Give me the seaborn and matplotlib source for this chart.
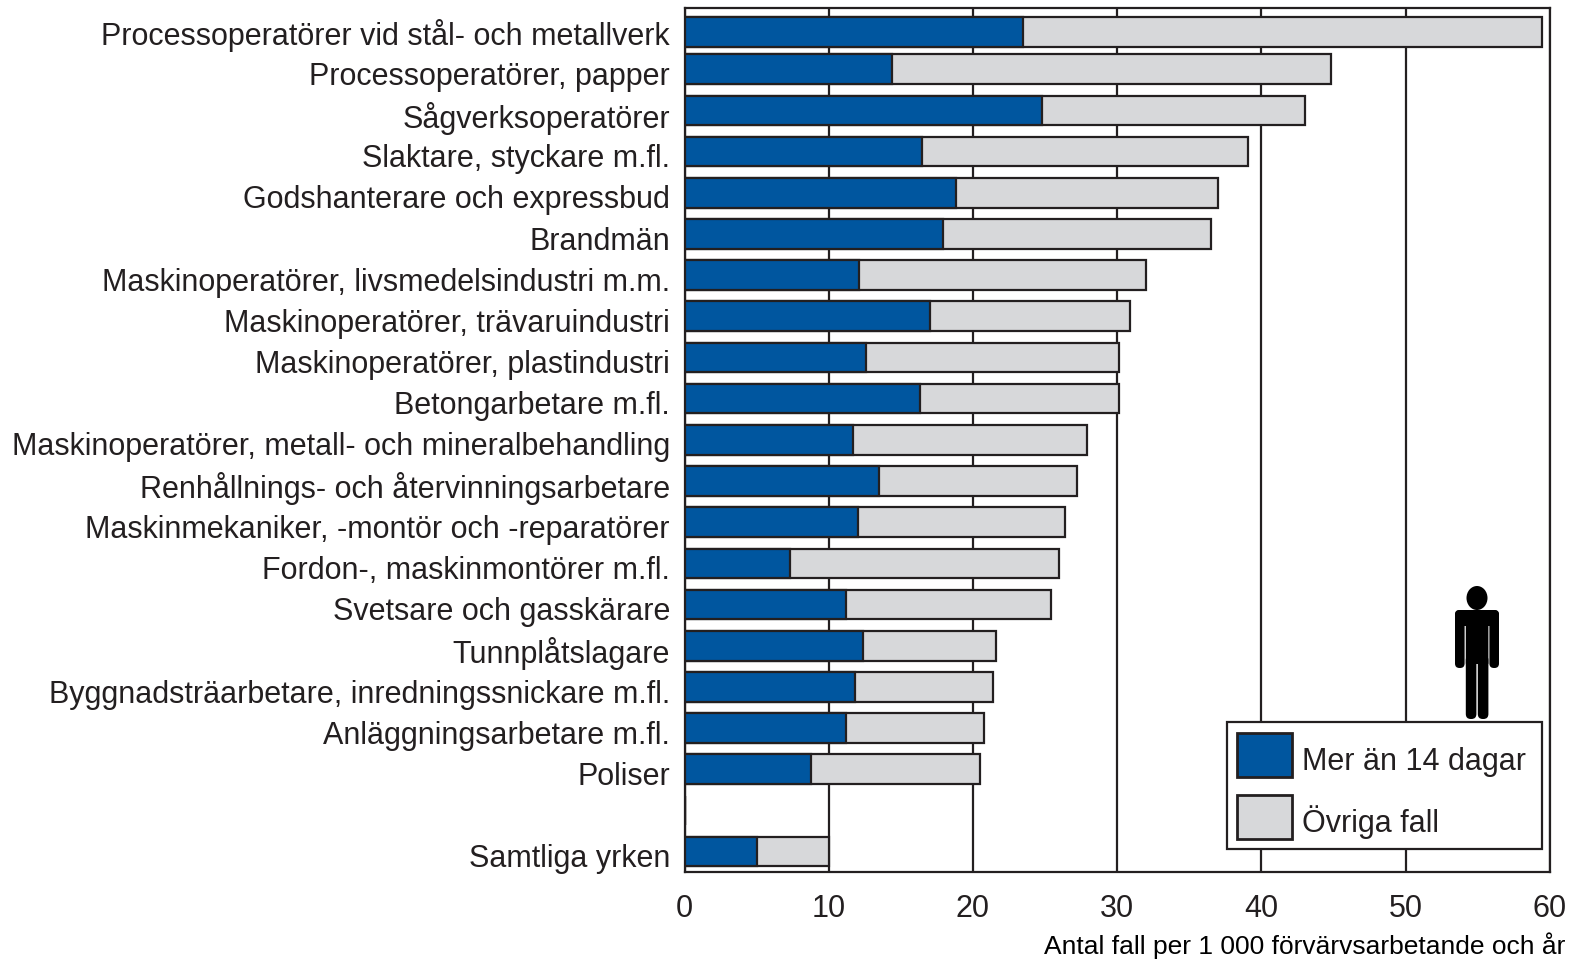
import matplotlib
matplotlib.use('Agg')
import matplotlib.pyplot as plt
from matplotlib.patches import Ellipse, FancyBboxPatch, Patch, Rectangle
from matplotlib.transforms import IdentityTransform, ScaledTranslation
import pandas as pd
import seaborn as sns

occupations = [
    'Processoperatörer vid stål- och metallverk',
    'Processoperatörer, papper',
    'Sågverksoperatörer',
    'Slaktare, styckare m.fl.',
    'Godshanterare och expressbud',
    'Brandmän',
    'Maskinoperatörer, livsmedelsindustri m.m.',
    'Maskinoperatörer, trävaruindustri',
    'Maskinoperatörer, plastindustri',
    'Betongarbetare m.fl.',
    'Maskinoperatörer, metall- och mineralbehandling',
    'Renhållnings- och återvinningsarbetare',
    'Maskinmekaniker, -montör och -reparatörer',
    'Fordon-, maskinmontörer m.fl.',
    'Svetsare och gasskärare',
    'Tunnplåtslagare',
    'Byggnadsträarbetare, inredningssnickare m.fl.',
    'Anläggningsarbetare m.fl.',
    'Poliser',
    ' ',
    'Samtliga yrken',
]
over_14_days = [23.5, 14.4, 24.8, 16.5, 18.8, 17.9, 12.1, 17.0, 12.6, 16.3, 11.7,
                13.5, 12.0, 7.3, 11.2, 12.4, 11.8, 11.2, 8.8, 0, 5.0]
total = [59.5, 44.8, 43.0, 39.1, 37.0, 36.5, 32.0, 30.9, 30.1, 30.1, 27.9,
         27.2, 26.4, 26.0, 25.4, 21.6, 21.4, 20.8, 20.5, 0, 10.0]
x_ticks = [0, 10, 20, 30, 40, 50, 60]

BLUE = '#00569f'
GREY = '#d7d8da'
INK = '#231f20'
W, H = 1583, 959

sns.set_theme(style='white')
plt.rcParams['font.family'] = ['Liberation Sans', 'DejaVu Sans']

df = pd.DataFrame({'yrke': occupations, 'blue': over_14_days, 'total': total})

fig = plt.figure(figsize=(W / 100, H / 100), dpi=100)
ax = fig.add_axes([684.5 / W, 1 - 872 / H, (1549.7 - 684.5) / W, (872 - 8) / H])

# grey first, the blue part goes on top of it
bar_style = dict(width=0.72, edgecolor=INK, linewidth=1.6, zorder=3, orient='h')
sns.barplot(data=df, y='yrke', x='total', order=occupations, color=GREY, saturation=1, ax=ax, **bar_style)
sns.barplot(data=df, y='yrke', x='blue', order=occupations, color=BLUE, saturation=1, ax=ax, **bar_style)

# in the original the top bar sits a bit closer to the second one
for container in ax.containers:
    top_bar = container[0]
    top_bar.set_y(top_bar.get_y() + 0.1)

ax.set_xlim(0, 60)
ax.set_ylim(20.495, -0.486)
ax.set_xticks(x_ticks)
ax.set_xlabel('')
ax.set_ylabel('')
ax.grid(axis='x', color=INK, linewidth=1.6, zorder=0)
ax.set_axisbelow(True)
ax.grid(axis='y', visible=False)
ax.tick_params(axis='y', length=0, pad=10.5, labelsize=22, labelcolor=INK)
ax.tick_params(axis='x', length=0, pad=16, labelsize=22, labelcolor=INK)
for spine in ax.spines.values():
    spine.set_visible(True)
    spine.set_color(INK)
    spine.set_linewidth(1.6)

# category labels sit slightly below the middle of their bars
label_shift = ScaledTranslation(0, -3 / 72, fig.dpi_scale_trans)
for label in ax.get_yticklabels():
    label.set_transform(label.get_transform() + label_shift)

fig.text(1565 / W, 1 - 946 / H, 'Antal fall per 1 000 förvärvsarbetande och år',
         ha='right', va='center', fontsize=19, color='black')

# legend box drawn by hand since it has more room on the right than on the left
ax.add_patch(Rectangle((1227, H - 849), 315, 127, transform=IdentityTransform(), facecolor='white',
                       edgecolor=INK, linewidth=1.6, zorder=5, clip_on=False))
handles = [Patch(facecolor=BLUE, edgecolor=INK, linewidth=2, label='Mer än 14 dagar'),
           Patch(facecolor=GREY, edgecolor=INK, linewidth=2, label='Övriga fall')]
leg = ax.legend(handles=handles, loc='upper left', bbox_to_anchor=(1237 / W, 1 - 733 / H),
                bbox_transform=fig.transFigure, fontsize=22, frameon=False,
                handlelength=1.8, handleheight=1.84, labelspacing=0.58, handletextpad=0.33,
                borderpad=0, borderaxespad=0)
leg.set_zorder(6)
for t in leg.get_texts():
    t.set_color(INK)
    t.set_y(-5)

# little man above the legend, drawn in picture pixels (y counted from the top)
man = dict(transform=IdentityTransform(), facecolor='black', edgecolor='none', zorder=6)
fig.add_artist(Ellipse((1477, H - 598), 21, 24, **man))
parts = [
    (1455, 610, 44, 16, 5),        # shoulders
    (1455, 610, 9.6, 58, 4.5),     # arms
    (1489.4, 610, 9.6, 58, 4.5),
    (1465.8, 612, 22.6, 52, 0.5),  # body
    (1465.8, 655, 10.6, 64, 5),    # legs
    (1477.8, 655, 10.6, 64, 5),
]
for x0, y0, w, h, r in parts:
    fig.add_artist(FancyBboxPatch((x0 + r, H - y0 - h + r), w - 2 * r, h - 2 * r,
                                  boxstyle=f'round,pad={r},rounding_size={r}', **man))

fig.savefig('out.png', dpi=100)
